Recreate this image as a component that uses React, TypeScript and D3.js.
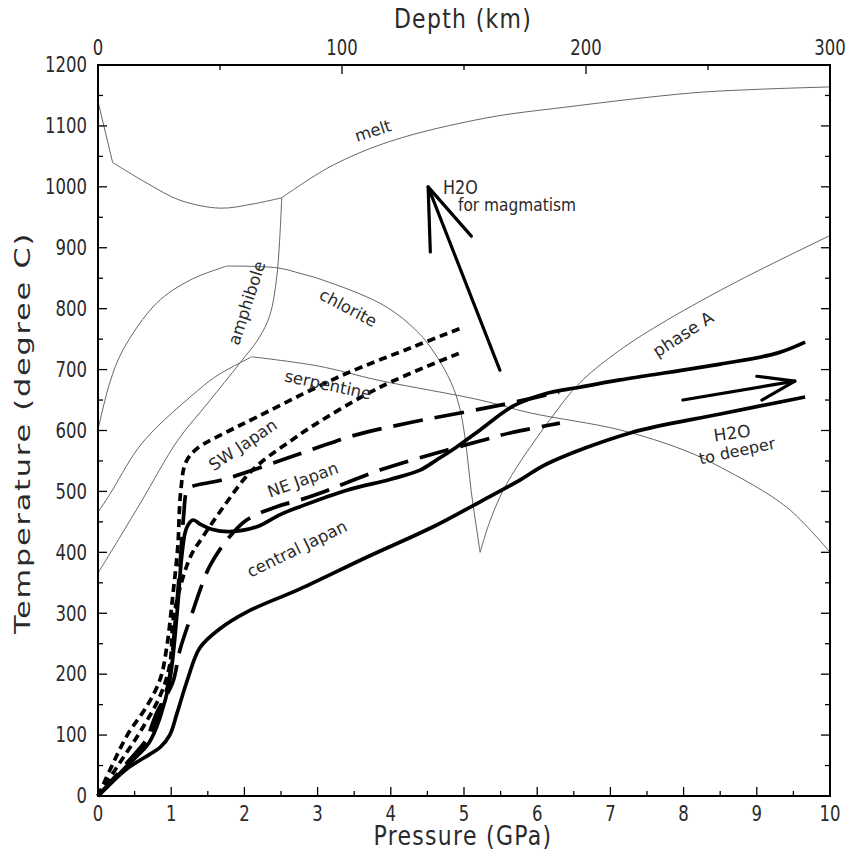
import React from "react";
import * as d3 from "d3";

type Pt = [number, number];

// ---------- data (P in GPa, T in °C) ----------
const xTickValues = [0, 1, 2, 3, 4, 5, 6, 7, 8, 9, 10];
const yTickValues = [0, 100, 200, 300, 400, 500, 600, 700, 800, 900, 1000, 1100, 1200];
const depthTickValues = [0, 100, 200, 300];

const meltSteep: Pt[] = [[0, 1140], [0.2, 1040]];
const meltTrough: Pt[] = [[0.2, 1040], [0.67, 1006], [1.12, 978], [1.67, 965], [2.12, 972], [2.51, 982]];
const meltHigh: Pt[] = [[2.51, 982], [3.17, 1033], [4, 1075], [5.3, 1113], [6.4, 1131], [8.1, 1154], [9, 1160], [10, 1164]];

const amphiboleTopLeft: Pt[] = [[0, 601], [0.16, 678], [0.34, 732], [0.8, 809], [1.26, 847], [1.76, 870]];
const chloriteCurve: Pt[] = [[1.76, 870], [2.45, 867], [2.76, 858], [3.07, 847], [3.85, 809], [4.25, 775], [4.54, 737], [4.9, 655], [5.12, 481], [5.22, 400]];
const phaseACurve: Pt[] = [[5.22, 400], [5.36, 453], [5.59, 514], [6.17, 617], [6.58, 678], [7.13, 732], [7.77, 781], [8.77, 847], [10, 920]];
const serpentineLeft: Pt[] = [[0, 466], [0.16, 495], [0.53, 568], [0.8, 605], [1.26, 655], [1.6, 688], [1.94, 711], [2.1, 721]];
const serpentineCurve: Pt[] = [[2.1, 721], [3, 706], [3.85, 682], [5.22, 650], [5.9, 629], [7.13, 601], [8, 568], [8.5, 540], [9.41, 474], [10, 400]];
const amphiboleCurve: Pt[] = [[0, 366], [0.3, 425], [0.6, 485], [1.09, 584], [1.5, 645], [1.94, 711], [2.2, 752], [2.35, 790], [2.44, 850], [2.48, 910], [2.51, 982]];

const swJapanUpper: Pt[] = [[0, 0], [0.2, 52], [0.4, 100], [0.67, 148], [0.85, 192], [0.94, 245], [1.02, 327], [1.09, 409], [1.13, 500], [1.2, 548], [1.35, 570], [1.8, 600], [2.17, 622], [2.8, 660], [3.4, 694], [4.3, 737], [5, 770]];
const swJapanLower: Pt[] = [[0, 0], [0.3, 55], [0.6, 110], [0.85, 165], [0.98, 215], [1.04, 300], [1.26, 392], [1.43, 425], [1.71, 474], [2.03, 525], [2.25, 550], [2.62, 582], [2.94, 608], [3.85, 671], [4.98, 729]];
const neJapanDashed: Pt[] = [[0, 0], [0.4, 55], [0.7, 100], [0.95, 180], [1.05, 280], [1.12, 380], [1.17, 460], [1.21, 500], [1.26, 507], [1.7, 519], [2.5, 551], [3, 572], [3.5, 592], [4.3, 614], [5, 630], [5.63, 645], [6.3, 663]];
const neJapanSolid: Pt[] = [[0, 0], [0.4, 50], [0.7, 88], [0.85, 130], [0.98, 190], [1.08, 300], [1.15, 400], [1.21, 440], [1.3, 453], [1.4, 446], [1.55, 438], [1.8, 434], [2.17, 442], [2.49, 462], [2.76, 475], [3.4, 502], [4.0, 520], [4.4, 535], [4.63, 552], [4.9, 573], [5.22, 601], [5.67, 640], [6.1, 660], [6.58, 671], [7.13, 683], [8.5, 709], [9.28, 727], [9.66, 745]];
const centralJapanDashed: Pt[] = [[0, 0], [0.48, 59], [0.62, 80], [0.8, 136], [1.02, 186], [1.12, 240], [1.3, 305], [1.4, 340], [1.53, 378], [1.76, 420], [2.03, 453], [2.44, 475], [2.76, 486], [3.03, 497], [3.85, 535], [4.77, 568], [5.26, 584], [5.63, 596], [6.31, 612]];
const centralJapanSolid: Pt[] = [[0, 0], [0.4, 45], [0.7, 68], [0.85, 80], [0.98, 100], [1.08, 136], [1.22, 190], [1.39, 243], [1.67, 275], [2.03, 302], [2.76, 340], [3.67, 392], [4.58, 442], [5.22, 483], [5.77, 519], [6.13, 545], [7.27, 596], [8.5, 627], [9.66, 655]];

const magmatismArrowShaft: Pt[] = [[5.49, 699], [4.51, 1000]];
const magmatismArrowHead: Pt[] = [[4.54, 893], [4.51, 1000], [5.1, 919]];
const deeperArrowShaft: Pt[] = [[7.99, 650], [9.52, 681]];
const deeperArrowHead: Pt[] = [[9.0, 689], [9.52, 681], [9.07, 650]];

// ---------- layout ----------
const W = 847, H = 853;
const X0 = 98, X1 = 830, Y0 = 796, Y1 = 65;
const FONT = "'DejaVu Sans', 'Liberation Sans', sans-serif";
const TEXT = "#2a2a2a";

export default function App() {
  const x = d3.scaleLinear().domain([0, 10]).range([X0, X1]);
  const y = d3.scaleLinear().domain([0, 1200]).range([Y0, Y1]);
  const depth = d3.scaleLinear().domain([0, 300]).range([X0, X1]);

  const smooth = d3.line<Pt>().x(d => x(d[0])).y(d => y(d[1])).curve(d3.curveCatmullRom.alpha(0.5));
  const straight = d3.line<Pt>().x(d => x(d[0])).y(d => y(d[1]));

  const thin = { fill: "none", stroke: "#666", strokeWidth: 1 };
  const thick = { fill: "none", stroke: "#000", strokeWidth: 3.7 };

  const xMinor = d3.range(0, 10.01, 0.5);
  const yMinor = d3.range(0, 1200.1, 50);
  const dMinor = d3.range(0, 300.1, 50);

  const label = (txt: string, px: number, py: number, rot: number, size = 16.5) => (
    <text x={px} y={py} transform={`rotate(${rot},${px},${py})`} textAnchor="middle" dominantBaseline="central"
      fontSize={size} fontFamily={FONT} fill={TEXT}>{txt}</text>
  );

  const stretched = (txt: string | number, px: number, py: number, size: number, anchor: string,
    key?: string, sy = 1.3, rot = 0, spacing = 0) => (
    <text key={key} transform={`translate(${px},${py}) scale(1,${sy}) rotate(${rot})`} x={0} y={0}
      textAnchor={anchor} dominantBaseline="central" fontSize={size} fontFamily={FONT} fill={TEXT}
      letterSpacing={spacing}>{txt}</text>
  );

  return (
    <svg width={W} height={H} style={{ position: "absolute", left: 0, top: 0, background: "#fff" }}>
      {/* thin phase boundaries */}
      <path d={straight(meltSteep)!} {...thin} />
      <path d={smooth(meltTrough)!} {...thin} />
      <path d={smooth(meltHigh)!} {...thin} />
      <path d={smooth(amphiboleTopLeft)!} {...thin} />
      <path d={smooth(chloriteCurve)!} {...thin} />
      <path d={smooth(phaseACurve)!} {...thin} />
      <path d={smooth(serpentineLeft)!} {...thin} />
      <path d={smooth(serpentineCurve)!} {...thin} />
      <path d={smooth(amphiboleCurve)!} {...thin} />

      {/* slab surface paths */}
      <path d={smooth(swJapanUpper)!} {...thick} strokeDasharray="8,5" />
      <path d={smooth(swJapanLower)!} {...thick} strokeDasharray="8,5" />
      <path d={smooth(neJapanDashed)!} {...thick} strokeDasharray="30,12" />
      <path d={smooth(centralJapanDashed)!} {...thick} strokeDasharray="30,12" />
      <path d={smooth(neJapanSolid)!} {...thick} />
      <path d={smooth(centralJapanSolid)!} {...thick} />

      {/* arrows */}
      <path d={straight(magmatismArrowShaft)!} fill="none" stroke="#000" strokeWidth={3.2} strokeLinecap="round" />
      <path d={straight(magmatismArrowHead)!} fill="none" stroke="#000" strokeWidth={3.2} strokeLinecap="round" strokeLinejoin="round" />
      <path d={straight(deeperArrowShaft)!} fill="none" stroke="#000" strokeWidth={3.2} strokeLinecap="round" />
      <path d={straight(deeperArrowHead)!} fill="none" stroke="#000" strokeWidth={3.2} strokeLinecap="round" strokeLinejoin="round" />

      {/* labels */}
      {label("melt", 373, 131, -18)}
      {label("amphibole", 247, 303, -72)}
      {label("chlorite", 348, 308, 28)}
      {label("serpentine", 328, 385, 12)}
      {label("SW Japan", 243, 445, -34)}
      {label("NE Japan", 303, 480, -20)}
      {label("central Japan", 297, 549, -26)}
      {label("phase A", 683, 334, -33, 17)}
      {stretched("H2O", 443, 187, 16, "start", undefined, 1.2)}
      {stretched("for magmatism", 458, 205, 15.4, "start", undefined, 1.15)}
      {label("H2O", 732, 433, -8, 17)}
      {label("to deeper", 737, 451, -12, 16)}

      {/* frame */}
      <rect x={X0} y={Y1} width={X1 - X0} height={Y0 - Y1} fill="none" stroke="#000" strokeWidth={2} />

      {/* bottom & top ticks */}
      {xMinor.map(v => {
        const major = Math.abs(v - Math.round(v)) < 1e-6;
        const len = major ? 9 : 5;
        return <line key={"xb" + v} x1={x(v)} x2={x(v)} y1={Y0} y2={Y0 - len} stroke="#000" strokeWidth={1.3} />;
      })}
      {dMinor.map(v => {
        const major = v % 100 === 0;
        const len = major ? 9 : 5;
        return <line key={"xt" + v} x1={depth(v)} x2={depth(v)} y1={Y1} y2={Y1 + len} stroke="#000" strokeWidth={1.3} />;
      })}
      {yMinor.map(v => {
        const major = v % 100 === 0;
        const len = major ? 9 : 5;
        return (
          <g key={"y" + v}>
            <line x1={X0} x2={X0 + len} y1={y(v)} y2={y(v)} stroke="#000" strokeWidth={1.3} />
            <line x1={X1} x2={X1 - len} y1={y(v)} y2={y(v)} stroke="#000" strokeWidth={1.3} />
          </g>
        );
      })}

      {/* tick labels */}
      {xTickValues.map(v => stretched(v, x(v), 814, 16.5, "middle", "xl" + v, 1.3))}
      {depthTickValues.map(v => stretched(v, depth(v), 48, 16.5, "middle", "dl" + v, 1.3))}
      {yTickValues.map(v => stretched(v, 87, y(v), 16.5, "end", "yl" + v, 1.3))}

      {/* axis titles */}
      {stretched("Pressure (GPa)", 463, 836, 22, "middle", undefined, 1.2, 0, 1.3)}
      {stretched("Depth (km)", 463, 19, 22, "middle", undefined, 1.2, 0, 1.3)}
      <text transform="translate(22,433) scale(1,1.38) rotate(-90)" x={0} y={0} textAnchor="middle"
        dominantBaseline="central" fontSize={22} fontFamily={FONT} fill={TEXT} letterSpacing={1.3}>Temperature (degree C)</text>
    </svg>
  );
}
